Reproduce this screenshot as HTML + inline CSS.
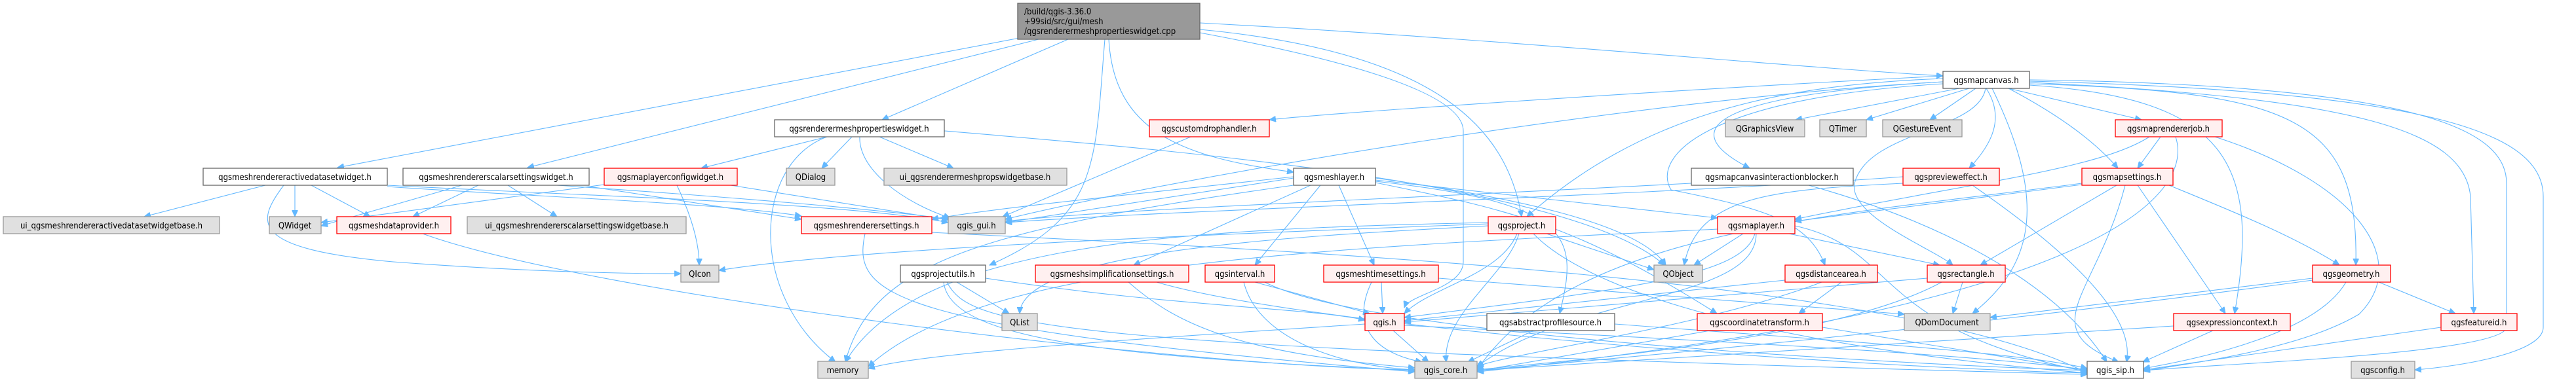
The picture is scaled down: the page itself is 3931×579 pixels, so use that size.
<!DOCTYPE html>
<html><head><meta charset="utf-8"><style>
html,body{margin:0;padding:0;background:#fff}
svg{display:block}
text{font-family:"DejaVu Sans Condensed","Liberation Sans",sans-serif;font-size:13px;fill:#000}
.e{fill:none;stroke:#63b8ff;stroke-width:1.1;marker-end:url(#a)}
.w{fill:#fff;stroke:#666;stroke-width:1.3}
.g{fill:#e0e0e0;stroke:#999;stroke-width:1.3}
.r{fill:#fff0f0;stroke:#ff0000;stroke-width:1.3}
.m{fill:#999;stroke:#666;stroke-width:1.3}
</style></head><body>
<svg width="3931" height="579" viewBox="0 0 3931 579" xmlns="http://www.w3.org/2000/svg">
<defs><marker id="a" markerUnits="userSpaceOnUse" markerWidth="11" markerHeight="9" refX="10" refY="4.5" orient="auto"><path d="M0,0 L10,4.5 L0,9 z" fill="#63b8ff" stroke="#63b8ff"/></marker></defs>
<g>
<path class="e" d="M1556 58 L515 256"/>
<path class="e" d="M1585 60 L805 256"/>
<path class="e" d="M1630 60 L1346 183"/>
<path class="e" d="M1686 60 C1670 250,1680 330,1510 405"/>
<path class="e" d="M1692 60 C1700 200,1800 240,1974 263"/>
<path class="e" d="M1831 35 C2300 60,2700 100,2965 116"/>
<path class="e" d="M1831 45 C2200 80,2300 200,2322 331"/>
<path class="e" d="M1831 50 C2100 100,2233 150,2233 200 L2233 400 C2233 440,2150 450,2143 470"/>
<path class="e" d="M405 283 L220 331"/>
<path class="e" d="M450 283 L450 331"/>
<path class="e" d="M475 283 L565 331"/>
<path class="e" d="M433 283 C390 340,380 380,600 400 C800 415,950 418,1039 418"/>
<path class="e" d="M591 283 C900 300,1300 310,1447 340"/>
<path class="e" d="M591 285 C800 300,1100 310,1223 330"/>
<path class="e" d="M705 283 L490 345"/>
<path class="e" d="M730 283 L630 331"/>
<path class="e" d="M775 283 L850 331"/>
<path class="e" d="M850 283 C1100 300,1350 320,1447 335"/>
<path class="e" d="M900 285 L1223 335"/>
<path class="e" d="M922 282 L490 340"/>
<path class="e" d="M1033 283 C1055 330,1067 370,1067 405"/>
<path class="e" d="M1115 283 L1447 336"/>
<path class="e" d="M645 357 C900 450,1800 560,2159 565"/>
<path class="e" d="M1262 209 L1070 257"/>
<path class="e" d="M1300 209 L1254 257"/>
<path class="e" d="M1342 209 L1455 257"/>
<path class="e" d="M1312 209 C1310 260,1380 310,1450 333"/>
<path class="e" d="M1262 209 C1150 250,1140 450,1275 553"/>
<path class="e" d="M1441 200 C1800 230,2400 280,2540 405"/>
<path class="e" d="M1817 209 L1530 331"/>
<path class="e" d="M1320 357 C1300 450,1350 500,2159 568"/>
<path class="e" d="M1422 355 C1900 380,2900 420,3185 570"/>
<path class="e" d="M1460 431 L1540 479"/>
<path class="e" d="M1504 425 C1800 470,2000 470,2083 489"/>
<path class="e" d="M1440 431 C1450 520,1700 545,2159 566"/>
<path class="e" d="M1445 431 C1480 500,1600 530,3185 572"/>
<path class="e" d="M1722 431 C1800 500,1900 540,2159 562"/>
<path class="e" d="M1765 431 C2000 500,2800 560,3185 570"/>
<path class="e" d="M1915 431 L2090 479"/>
<path class="e" d="M1898 431 C1920 520,2050 560,2159 565"/>
<path class="e" d="M1930 431 C2100 520,3000 560,3185 566"/>
<path class="e" d="M1974 272 L1534 340"/>
<path class="e" d="M1974 270 C1700 300,1500 320,1422 335"/>
<path class="e" d="M2000 283 L1730 405"/>
<path class="e" d="M2015 283 L1915 405"/>
<path class="e" d="M2043 283 L2097 405"/>
<path class="e" d="M2099 275 L2621 333"/>
<path class="e" d="M2099 277 C2400 310,2410 360,2380 479"/>
<path class="e" d="M2099 279 C2300 320,2400 340,2620 479"/>
<path class="e" d="M2099 272 C2300 300,2500 340,2542 405"/>
<path class="e" d="M1974 283 C1500 350,1330 400,1290 553"/>
<path class="e" d="M2990 135 L2740 183"/>
<path class="e" d="M3005 135 L2848 183"/>
<path class="e" d="M3015 135 L2945 183"/>
<path class="e" d="M2965 125 C2700 140,2520 180,2670 257"/>
<path class="e" d="M2965 128 C2600 150,2520 240,2550 290 C2700 320,2760 340,2785 405"/>
<path class="e" d="M2965 120 C2700 130,2500 180,2330 331"/>
<path class="e" d="M2965 125 C2500 150,1800 270,1534 335"/>
<path class="e" d="M2965 116 C2500 140,2000 175,1937 183"/>
<path class="e" d="M3030 135 C3020 200,2850 200,2830 280 C2820 330,2950 380,2980 405"/>
<path class="e" d="M3031 135 C3060 180,3040 220,3005 257"/>
<path class="e" d="M3040 135 C3120 300,3110 400,3010 479"/>
<path class="e" d="M3065 135 L3268 183"/>
<path class="e" d="M3065 135 C3150 180,3200 220,3232 257"/>
<path class="e" d="M3097 130 C3400 150,3450 250,3410 479"/>
<path class="e" d="M3097 128 C3500 140,3600 180,3595 405"/>
<path class="e" d="M3097 126 C3600 150,3760 200,3770 300 L3775 479"/>
<path class="e" d="M3097 124 C3700 140,3881 200,3881 300 L3881 500 C3881 540,3750 560,3685 565"/>
<path class="e" d="M3097 122 C3700 130,3825 200,3825 280 L3825 500 C3820 540,3400 555,3271 566"/>
<path class="e" d="M2581 280 C2000 310,1700 320,1534 338"/>
<path class="e" d="M2760 283 C3000 350,3150 450,3215 553"/>
<path class="e" d="M2904 270 C2500 300,1800 320,1534 340"/>
<path class="e" d="M3010 283 C3150 380,3260 480,3245 553"/>
<path class="e" d="M2904 280 C2700 290,2590 300,2570 405"/>
<path class="e" d="M3297 209 L3262 257"/>
<path class="e" d="M3280 209 C3200 260,3000 280,2739 335"/>
<path class="e" d="M3320 209 C3350 300,3200 470,2254 568"/>
<path class="e" d="M3380 209 C3600 280,3680 400,3600 480 C3500 540,3300 560,3271 567"/>
<path class="e" d="M3230 283 L3022 405"/>
<path class="e" d="M3243 283 C3200 450,3100 500,3233 553"/>
<path class="e" d="M3262 283 L3396 479"/>
<path class="e" d="M3310 283 C3400 320,3500 360,3570 405"/>
<path class="e" d="M3177 280 C2800 330,2400 350,2254 565"/>
<path class="e" d="M3177 282 L2739 338"/>
<path class="e" d="M2360 357 L2524 412"/>
<path class="e" d="M2315 357 C2290 420,2180 440,2143 479"/>
<path class="e" d="M2318 357 C2300 420,2200 480,2207 553"/>
<path class="e" d="M2340 357 C2400 420,2600 520,3185 570"/>
<path class="e" d="M2271 345 C2000 360,1560 380,1556 479"/>
<path class="e" d="M2271 340 C1800 350,1400 370,1290 553"/>
<path class="e" d="M2271 342 C1800 360,1300 380,1097 413"/>
<path class="e" d="M2660 357 L2585 405"/>
<path class="e" d="M2678 357 C2660 420,2500 440,2143 485"/>
<path class="e" d="M2730 357 L2960 405"/>
<path class="e" d="M2680 357 C2680 460,2400 450,2254 560"/>
<path class="e" d="M2739 345 C2900 380,2850 500,3185 568"/>
<path class="e" d="M2621 350 C2000 380,1500 400,1325 560"/>
<path class="e" d="M2108 431 L2110 479"/>
<path class="e" d="M2093 431 C2060 500,2100 540,2170 553"/>
<path class="e" d="M2195 425 L2906 480"/>
<path class="e" d="M2810 431 L2745 479"/>
<path class="e" d="M2724 428 L2143 490"/>
<path class="e" d="M2780 431 C2600 500,2300 540,2254 560"/>
<path class="e" d="M2995 431 L2980 479"/>
<path class="e" d="M2963 431 C2800 520,2400 550,2254 565"/>
<path class="e" d="M2941 425 L2143 492"/>
<path class="e" d="M2083 495 C1700 520,1400 540,1325 563"/>
<path class="e" d="M2126 505 L2180 553"/>
<path class="e" d="M2143 497 C2600 520,3000 540,3185 565"/>
<path class="e" d="M2340 505 L2240 553"/>
<path class="e" d="M2464 495 C2800 520,3100 540,3185 563"/>
<path class="e" d="M2610 505 L2254 567"/>
<path class="e" d="M2781 500 L3185 566"/>
<path class="e" d="M3529 425 L3037 485"/>
<path class="e" d="M3630 431 L3747 479"/>
<path class="e" d="M3529 428 C3000 500,2500 545,2254 566"/>
<path class="e" d="M3580 431 C3540 500,3400 540,3271 563"/>
<path class="e" d="M3377 505 L3270 553"/>
<path class="e" d="M3317 498 L2254 566"/>
<path class="e" d="M3725 500 L3271 565"/>
</g>
<g>
<rect class="m" x="1553" y="5" width="278" height="55"/>
<text x="1563" y="22">/build/qgis-3.36.0</text>
<text x="1563" y="37">+99sid/src/gui/mesh</text>
<text x="1563" y="52">/qgsrenderermeshpropertieswidget.cpp</text>
</g>
<g text-anchor="middle">
<rect class="w" x="2965" y="109" width="132" height="26"/><text x="3031" y="127">qgsmapcanvas.h</text>
<rect class="w" x="1182" y="183" width="259" height="26"/><text x="1311" y="201">qgsrenderermeshpropertieswidget.h</text>
<rect class="r" x="1754" y="183" width="183" height="26"/><text x="1845" y="201">qgscustomdrophandler.h</text>
<rect class="g" x="2633" y="183" width="121" height="26"/><text x="2693" y="201">QGraphicsView</text>
<rect class="g" x="2777" y="183" width="71" height="26"/><text x="2812" y="201">QTimer</text>
<rect class="g" x="2873" y="183" width="121" height="26"/><text x="2933" y="201">QGestureEvent</text>
<rect class="r" x="3228" y="183" width="163" height="26"/><text x="3309" y="201">qgsmaprendererjob.h</text>
<rect class="w" x="310" y="257" width="281" height="26"/><text x="450" y="275">qgsmeshrendereractivedatasetwidget.h</text>
<rect class="w" x="615" y="257" width="284" height="26"/><text x="757" y="275">qgsmeshrendererscalarsettingswidget.h</text>
<rect class="r" x="922" y="257" width="203" height="26"/><text x="1023" y="275">qgsmaplayerconfigwidget.h</text>
<rect class="g" x="1200" y="257" width="74" height="26"/><text x="1237" y="275">QDialog</text>
<rect class="g" x="1349" y="257" width="279" height="26"/><text x="1488" y="275">ui_qgsrenderermeshpropswidgetbase.h</text>
<rect class="w" x="1974" y="257" width="125" height="26"/><text x="2036" y="275">qgsmeshlayer.h</text>
<rect class="w" x="2581" y="257" width="247" height="26"/><text x="2704" y="275">qgsmapcanvasinteractionblocker.h</text>
<rect class="r" x="2904" y="257" width="147" height="26"/><text x="2977" y="275">qgspreviewеffect.h</text>
<rect class="r" x="3177" y="257" width="139" height="26"/><text x="3246" y="275">qgsmapsettings.h</text>
<rect class="g" x="5" y="331" width="330" height="26"/><text x="170" y="349">ui_qgsmeshrendereractivedatasetwidgetbase.h</text>
<rect class="g" x="411" y="331" width="79" height="26"/><text x="450" y="349">QWidget</text>
<rect class="r" x="514" y="331" width="174" height="26"/><text x="601" y="349">qgsmeshdataprovider.h</text>
<rect class="g" x="713" y="331" width="334" height="26"/><text x="880" y="349">ui_qgsmeshrendererscalarsettingswidgetbase.h</text>
<rect class="r" x="1223" y="331" width="199" height="26"/><text x="1322" y="349">qgsmeshrenderersettings.h</text>
<rect class="g" x="1447" y="331" width="87" height="26"/><text x="1490" y="349">qgis_gui.h</text>
<rect class="r" x="2271" y="331" width="103" height="26"/><text x="2322" y="349">qgsproject.h</text>
<rect class="r" x="2621" y="331" width="118" height="26"/><text x="2680" y="349">qgsmaplayer.h</text>
<rect class="g" x="1039" y="405" width="58" height="26"/><text x="1068" y="423">QIcon</text>
<rect class="w" x="1374" y="405" width="130" height="26"/><text x="1439" y="423">qgsprojectutils.h</text>
<rect class="r" x="1580" y="405" width="234" height="26"/><text x="1697" y="423">qgsmeshsimplificationsettings.h</text>
<rect class="r" x="1839" y="405" width="106" height="26"/><text x="1892" y="423">qgsinterval.h</text>
<rect class="r" x="2020" y="405" width="175" height="26"/><text x="2107" y="423">qgsmeshtimesettings.h</text>
<rect class="g" x="2524" y="405" width="74" height="26"/><text x="2561" y="423">QObject</text>
<rect class="r" x="2724" y="405" width="141" height="26"/><text x="2794" y="423">qgsdistancearea.h</text>
<rect class="r" x="2941" y="405" width="119" height="26"/><text x="3000" y="423">qgsrectangle.h</text>
<rect class="r" x="3529" y="405" width="119" height="26"/><text x="3588" y="423">qgsgeometry.h</text>
<rect class="g" x="1529" y="479" width="54" height="26"/><text x="1556" y="497">QList</text>
<rect class="r" x="2083" y="479" width="60" height="26"/><text x="2113" y="497">qgis.h</text>
<rect class="w" x="2269" y="479" width="195" height="26"/><text x="2366" y="497">qgsabstractprofilesource.h</text>
<rect class="r" x="2590" y="479" width="191" height="26"/><text x="2685" y="497">qgscoordinatetransform.h</text>
<rect class="g" x="2906" y="479" width="131" height="26"/><text x="2971" y="497">QDomDocument</text>
<rect class="r" x="3317" y="479" width="178" height="26"/><text x="3406" y="497">qgsexpressioncontext.h</text>
<rect class="r" x="3725" y="479" width="116" height="26"/><text x="3783" y="497">qgsfeatureid.h</text>
<rect class="g" x="1248" y="552" width="77" height="26"/><text x="1286" y="570">memory</text>
<rect class="g" x="2159" y="552" width="95" height="26"/><text x="2206" y="570">qgis_core.h</text>
<rect class="w" x="3185" y="552" width="86" height="26"/><text x="3228" y="570">qgis_sip.h</text>
<rect class="g" x="3588" y="552" width="97" height="26"/><text x="3636" y="570">qgsconfig.h</text>
</g>
</svg>
</body></html>
